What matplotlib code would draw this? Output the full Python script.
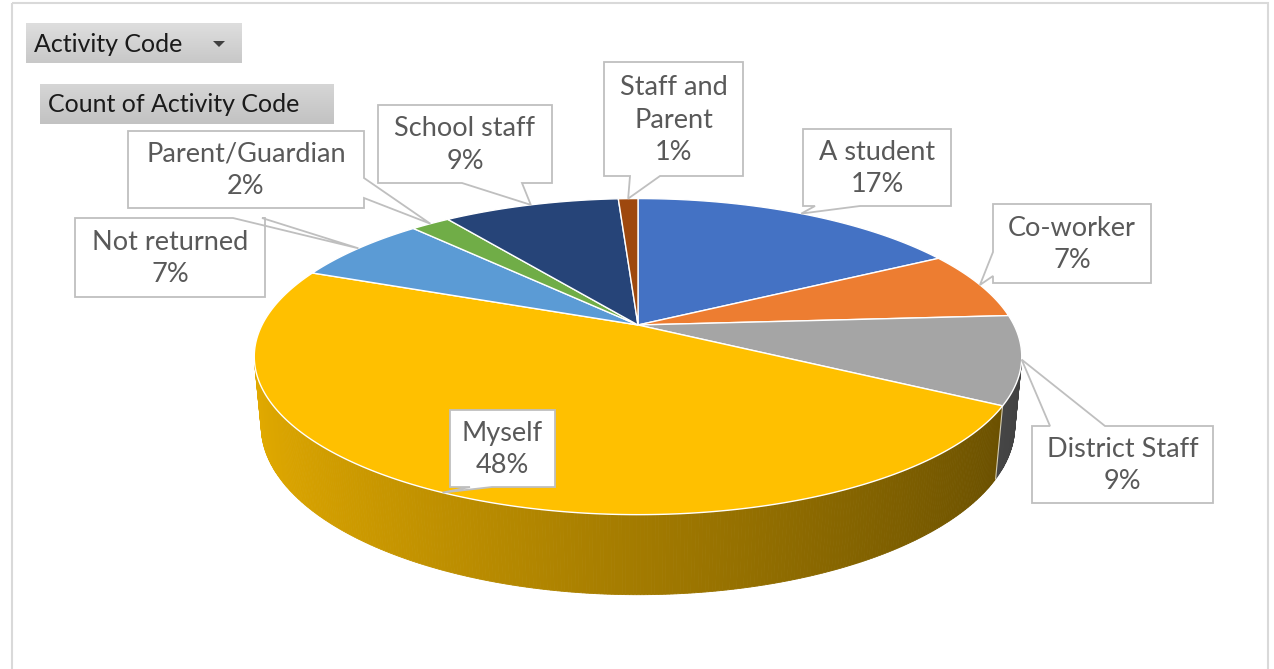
import numpy as np
import matplotlib.pyplot as plt
from matplotlib.patches import Polygon, Rectangle
from matplotlib.colors import to_rgb

# data
labels = ["A student", "Co-worker", "District Staff", "Myself", "Not returned",
          "Parent/Guardian", "School staff", "Staff and\nParent"]
values = [17, 7, 9, 48, 7, 2, 9, 1]
colors = ["#4472C4", "#ED7D31", "#A5A5A5", "#FFC000", "#5B9BD5",
          "#70AD47", "#264478", "#9E480E"]

plt.rcParams['font.family'] = ['Lato', 'DejaVu Sans']

fig = plt.figure(figsize=(12.74, 6.69), dpi=100)
ax = fig.add_axes([0, 0, 1, 1])
ax.set_xlim(0, 1274)
ax.set_ylim(669, 0)
ax.axis('off')

# chart border
ax.add_patch(Rectangle((12, 3), 1256, 680, fill=False, ec='#d9d9d9', lw=1.5))

# pivot field buttons
def button(x0, y0, x1, y1, txt, c_top, c_bot):
    grad = np.linspace(0, 1, 50)[:, None]
    ct, cb = np.array(to_rgb(c_top)), np.array(to_rgb(c_bot))
    img = ct[None, None, :] * (1 - grad[..., None]) + cb[None, None, :] * grad[..., None]
    ax.imshow(img, extent=(x0, x1, y1, y0), aspect='auto', zorder=1)
    ax.text(x0 + 8, (y0 + y1) / 2 + 1, txt, fontsize=18, color='#1a1a1a',
            va='center', ha='left', zorder=2)

button(26, 23, 242, 63, "Activity Code", '#dedede', '#c8c8c8')
ax.add_patch(Polygon([(213, 41), (225, 41), (219, 47)], closed=True, fc='#404040', ec='none', zorder=3))
button(40, 84, 334, 124, "Count of Activity Code", '#d6d6d6', '#c2c2c2')

# 3D pie geometry (perspective view)
phi = np.radians(23.8)
D = 5 * np.cos(phi)
K = 1720
cx, cy = 638, 325
thick = 0.2

def proj(theta, r=1.0, z=0.0):
    x = r * np.sin(theta)
    y = r * np.cos(theta)
    depth = D + y * np.cos(phi) - z * np.sin(phi)
    sx = x / depth
    sy = (y * np.sin(phi) + z * np.cos(phi)) / depth
    return cx + K * sx, cy - K * sy

total = sum(values)
bounds = np.concatenate([[0], np.cumsum(values)]) / total * 2 * np.pi
limit = -1 / (D * np.cos(phi))

# side walls
for i in range(len(values)):
    t = np.linspace(bounds[i], bounds[i + 1], max(int(values[i] * 8), 4))
    base = np.array(to_rgb(colors[i]))
    for t0, t1 in zip(t[:-1], t[1:]):
        tm = (t0 + t1) / 2
        if np.cos(tm) >= limit:
            continue
        shade = 0.64 - 0.25 * np.sin(tm)
        c = np.clip(base * shade, 0, 1)
        pts = [proj(t0), proj(t1), proj(t1, z=-thick), proj(t0, z=-thick)]
        ax.add_patch(Polygon(pts, closed=True, fc=c, ec=c, lw=0.6, zorder=4))
    if np.cos(bounds[i]) < limit:
        xa, ya = proj(bounds[i])
        xb, yb = proj(bounds[i], z=-thick)
        ax.plot([xa, xb], [ya, yb], color='#ffffff', lw=0.8, alpha=0.7, zorder=5)

# top faces
for i in range(len(values)):
    t = np.linspace(bounds[i], bounds[i + 1], max(int(values[i] * 8), 4))
    pts = [(cx, cy)] + [proj(tt) for tt in t]
    ax.add_patch(Polygon(pts, closed=True, fc=colors[i], ec='white', lw=1.0, zorder=6))

# callouts: box (x0, y0, x1, y1), side of the pointer, pointer base, tip radius
boxes = [(803, 129, 951, 206), (993, 204, 1151, 283), (1032, 426, 1213, 503),
         (450, 410, 555, 487), (75, 218, 265, 297), (128, 131, 364, 208),
         (378, 105, 552, 183), (604, 62, 743, 176)]
sides = ['bottom', 'left', 'top', 'bottom', 'top', 'right', 'bottom', 'bottom']
bases = [(815, 860), (252, 276), (1050, 1105), (470, 492), (233, 262),
         (178, 198), (462, 522), (630, 660)]
tip_r = [1.0, 1.0, 1.0, 1.0, 1.0, 1.0, 1.0, 1.0]

for i in range(len(values)):
    x0, y0, x1, y1 = boxes[i]
    a, b = bases[i]
    tip = proj((bounds[i] + bounds[i + 1]) / 2, r=tip_r[i])
    s = sides[i]
    if s == 'bottom':
        pts = [(x0, y0), (x1, y0), (x1, y1), (b, y1), tip, (a, y1), (x0, y1)]
    elif s == 'top':
        pts = [(x0, y0), (a, y0), tip, (b, y0), (x1, y0), (x1, y1), (x0, y1)]
    elif s == 'left':
        pts = [(x0, y0), (x1, y0), (x1, y1), (x0, y1), (x0, b), tip, (x0, a)]
    else:
        pts = [(x0, y0), (x1, y0), (x1, a), tip, (x1, b), (x1, y1), (x0, y1)]
    ax.add_patch(Polygon(pts, closed=True, fc='white', ec='#bfbfbf', lw=1.3, zorder=8))
    pct = f"{values[i] / total * 100:.0f}%"
    ax.text((x0 + x1) / 2, (y0 + y1) / 2 + 1, labels[i] + "\n" + pct, fontsize=19.5,
            color='#595959', ha='center', va='center', multialignment='center',
            linespacing=1.38, zorder=9)

fig.savefig('out.png', dpi=100)
